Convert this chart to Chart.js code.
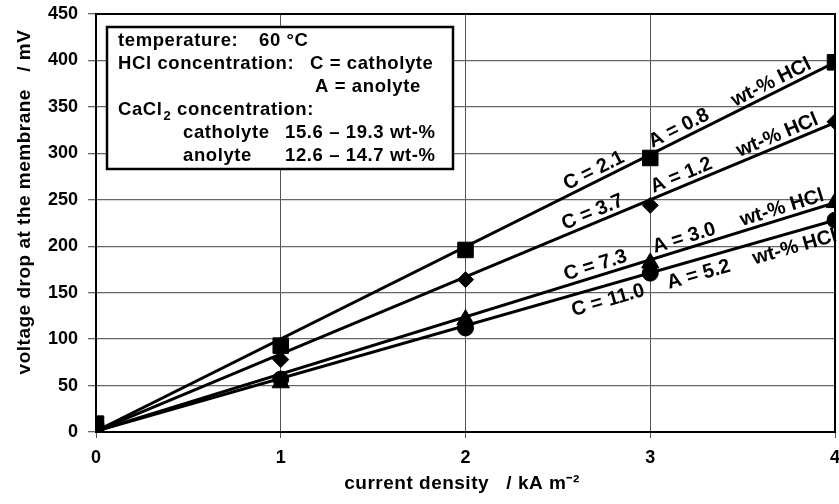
<!DOCTYPE html>
<html>
<head>
<meta charset="utf-8">
<script src="https://cdn.jsdelivr.net/npm/chart.js@4.4.1/dist/chart.umd.min.js"></script>
<style>
  html, body { margin: 0; padding: 0; background: #fff; }
  #wrap { width: 839px; height: 504px; position: relative; }
</style>
</head>
<body>
<div id="wrap"><canvas id="chart"></canvas></div>
<script>
// --- DONNÉES ---
const currentDensity = [0, 1, 2, 3, 4];
const squareValues   = [9, 93, 196, 295, 398];   // C = 2.1 / A = 0.8
const diamondValues  = [5, 78, 164, 244, 334];   // C = 3.7 / A = 1.2
const triangleValues = [3, 53, 121, 182, 247];   // C = 7.3 / A = 3.0
const circleValues   = [8, 57, 112, 171, 228];   // C = 11.0 / A = 5.2

// droites d'ajustement (extrémités)
const fitX        = [0, 4];
const squareFit   = [1, 398];
const diamondFit  = [1, 333];
const triangleFit = [1, 247];
const circleFit   = [1, 228];

const yTicks = [0, 50, 100, 150, 200, 250, 300, 350, 400, 450];
const xTicks = [0, 1, 2, 3, 4];

// étiquettes le long des droites : [texte, position x]
const squareLabels   = [['C = 2.1', 2.72], ['A = 0.8', 3.18], ['wt-% HCl', 3.68]];
const diamondLabels  = [['C = 3.7', 2.71], ['A = 1.2', 3.19], ['wt-% HCl', 3.71]];
const triangleLabels = [['C = 7.3', 2.72], ['A = 3.0', 3.20], ['wt-% HCl', 3.73]];
const circleLabels   = [['C = 11.0', 2.75], ['A = 5.2', 3.24], ['wt-% HCl', 3.76]];

const xTitle = 'current density   / kA m⁻²';
const yTitle = 'voltage drop at the membrane   / mV';

const FONT = '"Liberation Sans", Arial, sans-serif';

function pts(xs, ys) { return xs.map((x, i) => ({ x: x, y: ys[i] })); }

function lineSet(ys) {
    return { data: pts(fitX, ys), showLine: true, borderColor: '#000', borderWidth: 3,
             pointRadius: 0, fill: false, order: 2 };
}
function markerSet(ys, style, r) {
    return { data: pts(currentDensity, ys), showLine: false, pointStyle: style, pointRadius: r,
             backgroundColor: '#000', borderColor: '#000', borderWidth: 1, order: 1 };
}

// --- PLUGIN : cadre, titres, encadré et étiquettes inclinées ---
const overlayPlugin = {
    id: 'overlay',
    afterDatasetsDraw(chart) {
        const { ctx, chartArea: a, scales: { x, y } } = chart;
        ctx.save();
        ctx.fillStyle = '#000';

        // étiquettes le long des droites
        const groups = [
            [squareLabels, squareFit, -1],
            [diamondLabels, diamondFit, -1],
            [triangleLabels, triangleFit, -1],
            [circleLabels, circleFit, 1]
        ];
        ctx.font = 'bold 20px ' + FONT;
        ctx.textAlign = 'center';
        groups.forEach(([labels, fit, side]) => {
            const px0 = x.getPixelForValue(fitX[0]), py0 = y.getPixelForValue(fit[0]);
            const px1 = x.getPixelForValue(fitX[1]), py1 = y.getPixelForValue(fit[1]);
            const ang = Math.atan2(py1 - py0, px1 - px0);
            labels.forEach(([txt, xv]) => {
                const yv = fit[0] + (fit[1] - fit[0]) * (xv - fitX[0]) / (fitX[1] - fitX[0]);
                ctx.save();
                ctx.translate(x.getPixelForValue(xv), y.getPixelForValue(yv));
                ctx.rotate(ang);
                ctx.textBaseline = side < 0 ? 'alphabetic' : 'top';
                ctx.fillText(txt, 0, side < 0 ? -5 : 5);
                ctx.restore();
            });
        });

        // encadré d'informations
        const bx = 107, by = 27, bw = 346, bh = 142;
        ctx.fillStyle = '#fff';
        ctx.fillRect(bx, by, bw, bh);
        ctx.lineWidth = 2.5;
        ctx.strokeStyle = '#000';
        ctx.strokeRect(bx, by, bw, bh);

        ctx.fillStyle = '#000';
        ctx.textAlign = 'left';
        ctx.textBaseline = 'alphabetic';
        ctx.letterSpacing = '0.6px';
        const f = 'bold 18.5px ' + FONT;
        ctx.font = f;
        ctx.fillText('temperature:', 118, 46);
        ctx.fillText('60 °C', 259, 46);
        ctx.fillText('HCl concentration:', 118, 69);
        ctx.fillText('C = catholyte', 310, 69);
        ctx.fillText('A = anolyte', 315, 92);
        ctx.fillText('CaCl', 118, 115);
        const w = ctx.measureText('CaCl').width;
        ctx.font = 'bold 13px ' + FONT;
        ctx.fillText('2', 118 + w + 1, 120);
        const w2 = ctx.measureText('2').width;
        ctx.font = f;
        ctx.fillText(' concentration:', 118 + w + w2 + 1, 115);
        ctx.fillText('catholyte', 183, 138);
        ctx.fillText('15.6 – 19.3 wt-%', 285, 138);
        ctx.fillText('anolyte', 183, 161);
        ctx.fillText('12.6 – 14.7 wt-%', 285, 161);

        // cadre du graphique
        ctx.lineWidth = 2;
        ctx.strokeRect(a.left, a.top, a.right - a.left, a.bottom - a.top);

        // titres des axes
        ctx.letterSpacing = '0.5px';
        ctx.font = 'bold 19px ' + FONT;
        ctx.textAlign = 'center';
        ctx.textBaseline = 'middle';
        ctx.fillText(xTitle, 462, 484);
        ctx.save();
        ctx.translate(25, 202);
        ctx.rotate(-Math.PI / 2);
        ctx.fillText(yTitle, 0, 0);
        ctx.restore();

        ctx.restore();
    }
};

new Chart(document.getElementById('chart'), {
    type: 'scatter',
    data: {
        datasets: [
            lineSet(squareFit), lineSet(diamondFit), lineSet(triangleFit), lineSet(circleFit),
            markerSet(squareValues, 'rect', 11),
            markerSet(diamondValues, 'rectRot', 8),
            markerSet(triangleValues, 'triangle', 10),
            markerSet(circleValues, 'circle', 8)
        ]
    },
    options: {
        responsive: true,
        maintainAspectRatio: false,
        animation: false,
        layout: { autoPadding: false, padding: { top: 14, right: 4, left: 0, bottom: 0 } },
        plugins: { legend: { display: false }, tooltip: { enabled: false } },
        scales: {
            x: {
                type: 'linear', min: 0, max: 4,
                afterBuildTicks: s => { s.ticks = xTicks.map(v => ({ value: v })); },
                afterFit: s => { s.height = 72; s.paddingLeft = 0; s.paddingRight = 0; },
                grid: { color: '#555', lineWidth: 1, tickLength: 6, drawTicks: true },
                border: { display: false },
                ticks: { color: '#000', font: { family: FONT, size: 18, weight: 'bold' }, padding: 9 }
            },
            y: {
                type: 'linear', min: 0, max: 450,
                afterBuildTicks: s => { s.ticks = yTicks.map(v => ({ value: v })); },
                afterFit: s => { s.width = 96; s.paddingTop = 0; s.paddingBottom = 0; },
                grid: { color: '#666', lineWidth: 1.3, tickLength: 8, drawTicks: true },
                border: { display: false },
                ticks: { color: '#000', font: { family: FONT, size: 18, weight: 'bold' }, padding: 10 }
            }
        }
    },
    plugins: [overlayPlugin]
});
</script>
</body>
</html>
